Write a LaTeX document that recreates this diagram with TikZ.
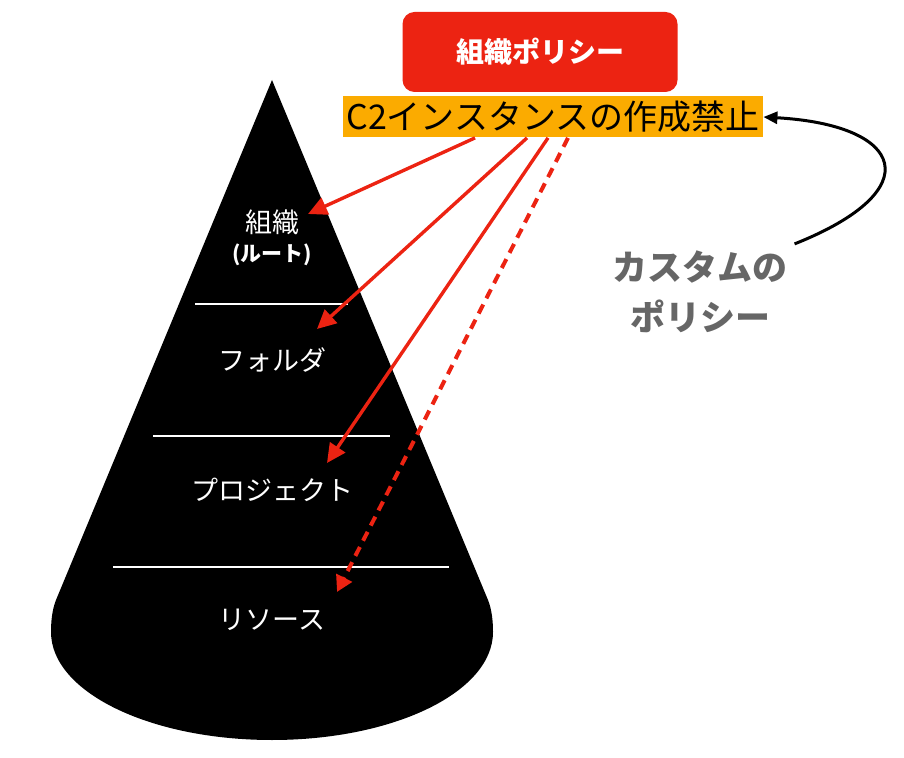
\documentclass[tikz,border=0pt]{standalone}
\usepackage{fontspec}
\setmainfont{Noto Sans CJK JP}
\usetikzlibrary{arrows.meta}
\definecolor{policyred}{RGB}{236,35,18}
\definecolor{banorange}{RGB}{251,171,0}
\definecolor{customgray}{RGB}{102,102,102}

\begin{document}
\begin{tikzpicture}[x=0.5pt,y=-0.5pt,
    level/.style={text=white,font=\fontsize{13.5}{16}\selectfont},
    divider/.style={draw=white,line width=1pt},
    redarrow/.style={draw=policyred,line width=1.7pt,-{Triangle[length=9.5pt,width=9pt]}}]
    \useasboundingbox (0,0) rectangle (904,758);
    \fill (272,80) -- (56,600) .. controls (52,610) and (51,622) .. (51,632)
        .. controls (51,692) and (150,740) .. (272,740)
        .. controls (394,740) and (493,692) .. (493,632)
        .. controls (493,622) and (492,610) .. (488,600) -- cycle;
    \draw[divider] (195,304) -- (348,304);
    \draw[divider] (153,436) -- (390,436);
    \draw[divider] (113,567) -- (449,567);
    \node[level] (org) at (272,222) {組織};
    \node[level,font=\bfseries\fontsize{10.5}{12}\selectfont] (root) at (272,255) {(ルート)};
    \node[level] (folder) at (272,360) {フォルダ};
    \node[level] (project) at (272,490) {プロジェクト};
    \node[level] (resource) at (272,620) {リソース};
    \node[fill=policyred,rounded corners=6pt,minimum width=137.5pt,minimum height=40pt,
        text=white,font=\bfseries\fontsize{14}{16}\selectfont] (policy) at (540,52) {組織ポリシー};
    \node[fill=banorange,minimum width=210pt,minimum height=20.5pt,inner sep=0pt,
        font=\fontsize{17}{20}\selectfont] (ban) at (553,117) {C2インスタンスの作成禁止};
    \node[text=customgray,align=center,font=\bfseries\fontsize{17.5}{25}\selectfont] (custom) at (700,292) {カスタムの\\ポリシー};
    \coordinate (t1) at (308,214);
    \coordinate (t2) at (317,329);
    \coordinate (t3) at (327,463);
    \coordinate (t4) at (337,592);
    \draw[redarrow] ([xshift=-39pt]ban.south) -- (t1);
    \draw[redarrow] ([xshift=-13pt]ban.south) -- (t2);
    \draw[redarrow] ([xshift=-2.5pt]ban.south) -- (t3);
    \draw[redarrow,line width=2pt,dash pattern=on 5pt off 3.5pt,-{Triangle[length=8pt,width=8.5pt]}]
        ([xshift=7.5pt]ban.south) -- (t4);
    \draw[line width=1.5pt,-{Triangle[length=7pt,width=6pt]}] (custom.north east)
        .. controls (930,190) and (905,125) .. (ban.east);
\end{tikzpicture}
\end{document}
